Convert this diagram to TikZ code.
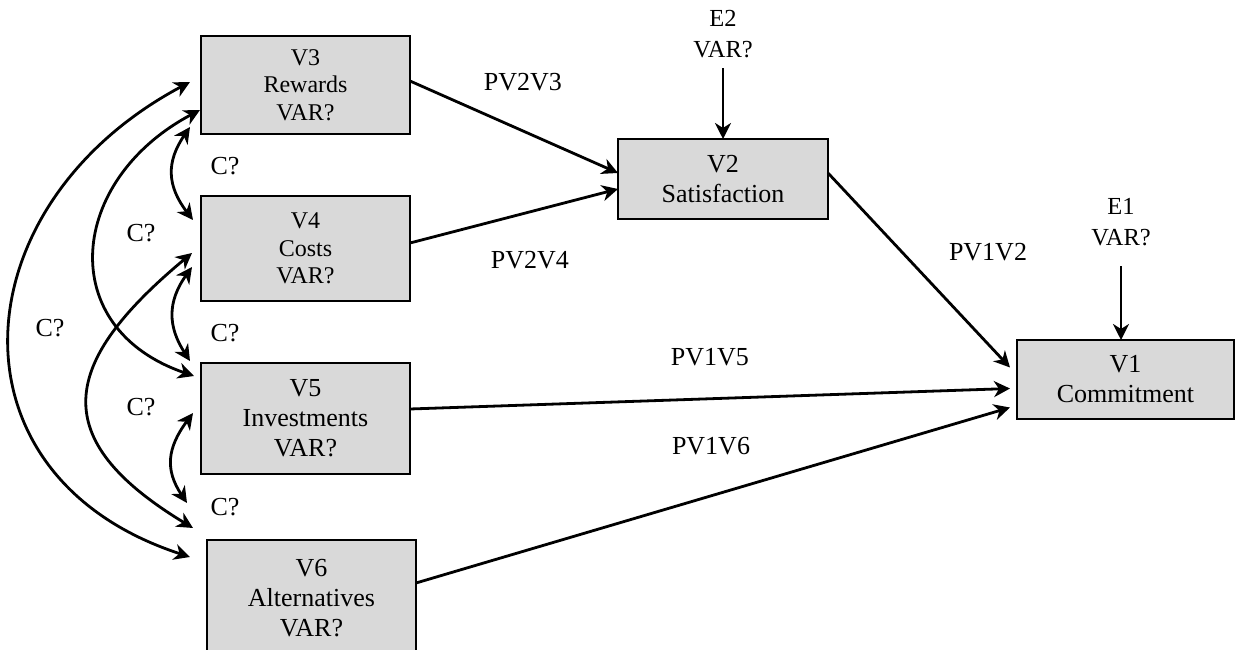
\documentclass[tikz,border=0pt]{standalone}
\usepackage{fontspec}
\setmainfont{Liberation Serif}
\usetikzlibrary{arrows.meta}
\begin{document}
\begin{tikzpicture}[x=1pt,y=-1pt,
  varbox/.style={draw=black,line width=1.5pt,fill=boxgray,inner sep=0pt,
    outer sep=0pt,align=center},
  smallfont/.style={font=\fontsize{24}{27.5}\selectfont},
  bigfont/.style={font=\fontsize{26}{30}\selectfont},
  lbl/.style={inner sep=0pt,align=center},
  tip/.tip={Stealth[length=16pt,width=16pt,inset=5pt]},
  arr/.style={line width=2.8pt,-tip},
  dbl/.style={line width=2.8pt,tip-tip}]
\definecolor{boxgray}{HTML}{D9D9D9}
\useasboundingbox (0,0) rectangle (1235,650);

% observed variables
\node[varbox,smallfont,minimum width=209pt,minimum height=98pt] (v3) at (305.5,85) {V3\\Rewards\\VAR?};
\node[varbox,smallfont,minimum width=209pt,minimum height=105pt] (v4) at (305.5,248.5) {V4\\Costs\\VAR?};
\node[varbox,bigfont,minimum width=209pt,minimum height=111pt] (v5) at (305.5,418.5) {V5\\Investments\\VAR?};
\node[varbox,bigfont,minimum width=209pt,minimum height=116pt] (v6) at (311.5,598) {V6\\Alternatives\\VAR?};
\node[varbox,bigfont,minimum width=210pt,minimum height=80pt] (v2) at (723,179) {V2\\Satisfaction};
\node[varbox,bigfont,minimum width=217pt,minimum height=79pt] (v1) at (1125.5,379.5) {V1\\Commitment};

% error terms
\node[lbl,font=\fontsize{24.5}{31}\selectfont] (e2) at (723,34.5) {E2\\VAR?};
\node[lbl,font=\fontsize{24.5}{31}\selectfont] (e1) at (1121,222.5) {E1\\VAR?};
\draw[arr] ([yshift=-10pt]e2.south) -- (e2.south |- v2.north);
\draw[arr] ([yshift=-20pt]e1.south) -- (e1.south |- v1.north);

% paths
\draw[arr] ([yshift=4pt]v3.east) -- ([yshift=6pt]v2.west);
\draw[arr] ([yshift=5.5pt]v4.east) -- ([yshift=-10pt]v2.west);
\draw[arr] ([yshift=9.5pt]v5.east) -- ([xshift=-7pt,yshift=-9pt]v1.west);
\draw[arr] ([yshift=15pt]v6.east) -- ([xshift=-7pt,yshift=-28pt]v1.west);
\draw[arr] ([yshift=6pt]v2.east) -- ([xshift=-7pt,yshift=12pt]v1.west);

\node[lbl,bigfont] (p23) at (523,82) {PV2V3};
\node[lbl,bigfont] (p24) at (530,260) {PV2V4};
\node[lbl,bigfont] (p12) at (988,252) {PV1V2};
\node[lbl,bigfont] (p15) at (710,357) {PV1V5};
\node[lbl,bigfont] (p16) at (711,446) {PV1V6};

% covariances
\coordinate (c3a) at (190,82);
\coordinate (c3b) at (200,110);
\coordinate (c3c) at (190,127);
\coordinate (c4a) at (193,220);
\coordinate (c4b) at (192,253);
\coordinate (c4c) at (192,267);
\coordinate (c5a) at (190,361);
\coordinate (c5b) at (194,376);
\coordinate (c5c) at (193,413);
\coordinate (c6a) at (187,503);
\coordinate (c6b) at (193,528);
\coordinate (c6c) at (190,557);

\draw[dbl] (c3c) .. controls (166,162) and (167,186) .. (c4a);
\draw[dbl] (c4c) .. controls (167,302) and (168,327) .. (c5a);
\draw[dbl] (c5c) .. controls (167,448) and (165,470) .. (c6a);
\draw[dbl] (c3b) .. controls (68,180) and (54,328) .. (c5b);
\draw[dbl] (c4b) .. controls (60,363) and (46,439) .. (c6b);
\draw[dbl] (c3a) .. controls (-41,205) and (-59,476) .. (c6c);

\node[lbl,bigfont] (k34) at (225,166) {C?};
\node[lbl,bigfont] (k45) at (225,333) {C?};
\node[lbl,bigfont] (k56) at (225,507) {C?};
\node[lbl,bigfont] (k35) at (141,233) {C?};
\node[lbl,bigfont] (k46) at (141,407) {C?};
\node[lbl,bigfont] (k36) at (50,328) {C?};
\end{tikzpicture}
\end{document}
